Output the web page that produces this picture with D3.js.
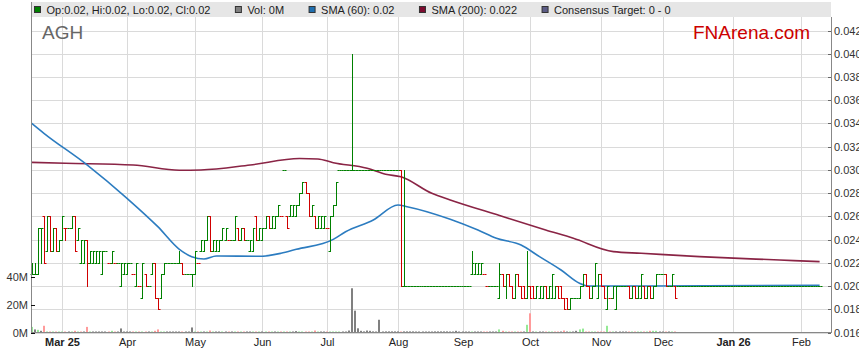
<!DOCTYPE html>
<html>
<head>
<meta charset="utf-8">
<script src="https://cdn.jsdelivr.net/npm/d3@7"></script>
<style>
  body { margin: 0; background: #fff; }
  svg { display: block; font-family: Arial, "Liberation Sans", sans-serif; }
</style>
</head>
<body>
<svg id="chart"></svg>
<script>
// first bar is Mon 17 Feb 2025, one bar per weekday
const startDate = new Date(2025, 1, 17);
const monthLabels = ["Mar 25", "Apr", "May", "Jun", "Jul", "Aug", "Sep", "Oct", "Nov", "Dec", "Jan 26", "Feb"];
const yearLabels = ["Mar 25", "Jan 26"];

// prices in thousandths of a dollar (21 = 0.021)
const opens = [
  21,21,21,25,26,23,26,23,25,23, 24,25,25,25,26,24,22,22,24,22,
  22,22,22,21,23,22,22,22,22,20, 21,21,22,21,20,20,19,21,20,21,
  22,19,19,21,22,22,22,22,22,22, 21,21,21,21,22,23,23,24,26,23,
  23,23,24,24,24,24,24,25,24,25, 24,23,23,26,24,24,25,26,25,25,
  26,26,30,26,26,26,26,27,28,29, 28,26,26,25,25,25,25,23,26,27,
  30,30,30,30,30,30,30,30,30,30, 30,30,30,30,30,30,30,30,30,30,
  30,20,20,20,20,20,20,20,20,20, 20,20,20,20,20,20,20,20,20,20,
  20,20,20,21,21,21,21,21,20,20, 20,20,19,21,20,21,20,19,21,20,
  20,19,20,20,19,19,19,20,19,19, 19,20,20,19,19,18,19,19,19,20,
  21,20,19,20,19,21,20,18,19,19, 18,20,20,20,20,19,20,19,19,20,
  19,20,19,20,21,21,21,20,20,20, 20,20,20,20,20,20,20,20,20,20,
  20,20,20,20,20,20,20,20,20,20, 20,20,20,20,20,20,20,20,20,20,
  20,20,20,20,20,20,20,20,20,20, 20,20,20,20,20,20,20
];
const highs = [
  22,22,25,25,26,26,26,25,25,24, 26,25,25,26,26,25,24,24,24,23,
  23,23,23,23,23,22,23,22,22,22, 22,22,22,21,22,20,22,21,20,22,
  22,19,21,22,22,22,22,22,23,22, 21,21,21,23,22,24,24,26,26,24,
  24,24,25,25,24,24,26,25,25,25, 24,24,25,26,25,25,26,26,26,26,
  27,26,30,26,27,27,27,28,29,29, 28,27,26,26,26,26,25,26,27,29,
  30,30,30,30,40,30,30,30,30,30, 30,30,30,30,30,30,30,30,30,30,
  30,30,20,20,20,20,20,20,20,20, 20,20,20,20,20,20,20,20,20,20,
  20,20,20,23,22,22,22,21,20,20, 20,20,22,21,21,21,20,21,21,20,
  20,23,20,20,20,20,20,20,20,21, 20,20,20,19,19,19,19,19,20,21,
  21,20,20,22,21,21,20,20,19,20, 20,20,20,20,20,20,20,20,21,20,
  20,20,20,21,21,21,21,20,21,20, 20,20,20,20,20,20,20,20,20,20,
  20,20,20,20,20,20,20,20,20,20, 20,20,20,20,20,20,20,20,20,20,
  20,20,20,20,20,20,20,20,20,20, 20,20,20,20,20,20,20
];
const lows = [
  21,21,21,22,22,23,23,23,23,23, 24,24,25,25,23,24,22,22,20,22,
  22,22,22,21,23,22,22,22,22,20, 21,21,22,21,20,20,19,20,20,21,
  19,18,19,21,22,22,22,22,22,21, 21,21,20,21,22,23,23,24,23,23,
  23,23,24,24,24,24,24,24,24,24, 24,23,23,24,24,24,25,25,25,25,
  26,26,30,25,26,26,26,27,28,28, 26,26,25,25,25,25,25,23,26,27,
  30,30,30,30,30,30,30,30,30,30, 30,30,30,30,30,30,30,30,30,30,
  20,20,20,20,20,20,20,20,20,20, 20,20,20,20,20,20,20,20,20,20,
  20,20,20,21,21,21,21,21,20,20, 20,20,19,20,19,20,19,19,20,19,
  19,19,19,19,19,19,19,19,19,19, 19,19,19,18,18,18,19,19,19,20,
  20,19,19,20,19,20,19,18,19,19, 18,20,20,20,19,19,19,19,19,19,
  19,19,19,20,21,21,20,20,20,19, 20,20,20,20,20,20,20,20,20,20,
  20,20,20,20,20,20,20,20,20,20, 20,20,20,20,20,20,20,20,20,20,
  20,20,20,20,20,20,20,20,20,20, 20,20,20,20,20,20,20
];
const closes = [
  21,21,25,25,22,26,23,25,23,24, 26,25,25,26,23,25,24,24,22,23,
  23,23,23,23,23,22,23,22,22,22, 22,22,22,21,22,20,22,20,20,22,
  19,18,21,22,22,22,22,22,22,21, 21,21,21,23,22,24,24,26,23,24,
  24,24,25,25,24,24,26,24,25,24, 24,24,25,24,25,25,26,25,26,26,
  27,26,30,25,27,27,27,28,29,28, 26,27,25,26,26,26,25,26,27,29,
  30,30,30,30,30,30,30,30,30,30, 30,30,30,30,30,30,30,30,30,30,
  20,20,20,20,20,20,20,20,20,20, 20,20,20,20,20,20,20,20,20,20,
  20,20,20,22,22,22,22,21,20,20, 20,20,21,20,21,20,19,21,20,19,
  19,20,19,19,20,20,20,19,20,21, 20,19,19,18,18,19,19,19,20,21,
  20,19,20,22,21,20,19,20,19,20, 20,20,20,20,19,20,19,20,21,19,
  20,19,20,21,21,21,20,20,21,19, 20,20,20,20,20,20,20,20,20,20,
  20,20,20,20,20,20,20,20,20,20, 20,20,20,20,20,20,20,20,20,20,
  20,20,20,20,20,20,20,20,20,20, 20,20,20,20,20,20,20
];
// volume in millions of shares
const volumes = [
  4.0,2.2,1.9,1.2,4.8,0.7,0.3,0.3,0.2,0.3, 0.3,0.7,0.3,0.2,1.2,0.3,0.7,0.2,4.0,0.2,
  0.3,0.2,0.2,0.3,0.2,0.2,1.2,0.2,0.3,2.9, 0.2,0.3,0.2,0.3,0.7,0.7,0.3,0.7,0.2,0.3,
  1.2,2.2,0.3,0.2,0.2,0.3,0.2,0.2,0.3,0.2, 0.7,0.2,3.6,0.3,0.7,0.3,0.7,0.7,1.4,0.3,
  0.2,0.5,0.5,0.2,0.3,0.2,0.5,0.2,0.5,0.5, 0.5,0.5,0.2,0.3,0.2,0.3,0.2,0.5,0.7,0.3,
  0.5,0.7,0.3,0.5,0.7,0.5,1.0,0.7,0.5,0.5, 0.5,0.3,1.4,0.5,0.5,0.7,0.5,0.3,0.5,0.3,
  0.7,0.3,0.2,1.4,31.6,15.6,3.0,1.2,0.8,1.4, 1.2,0.8,0.4,9.1,0.2,0.8,0.8,0.8,0.8,0.8,
  0.5,0.8,0.8,0.8,0.8,0.2,0.5,0.2,0.2,0.5, 0.2,0.8,0.8,0.8,0.8,0.8,0.2,0.2,1.2,0.7,
  0.7,0.5,0.2,0.5,0.2,0.5,0.5,0.5,0.5,0.5, 0.2,0.2,2.2,1.2,0.5,0.2,0.2,0.5,0.2,0.2,
  0.2,5.5,13.7,0.5,0.2,0.7,0.7,0.5,0.7,0.7, 0.2,0.2,0.2,1.4,0.5,0.5,0.5,1.2,2.2,2.8,
  0.5,0.5,0.5,0.7,0.5,0.5,0.2,4.8,0.7,0.7, 0.7,0.7,0.2,0.2,0.7,0.2,0.2,0.7,0.5,0.2,
  0.2,1.2,1.2,1.2,0.2,0.5,0.5,0.5,0.2,0.2, 0,0,0,0,0,0,0,0,0,0,
  0,0,0,0,0,0,0,0,0,0, 0,0,0,0,0,0,0,0,0,0,
  0,0,0,0,0,0,0,0,0,0, 0,0,0,0,0,0,0
];
// moving averages at these bar indices
const sma60Days = [0,4,18,31,41,48,52,56,60,74,81,86,98,102,111,119,122,136,145,151,159,165,172,178,181,200,256];
const sma60Vals = [0.03401,0.03315,0.03043,0.02755,0.02511,0.02316,0.02253,0.02233,0.02259,0.02256,0.02282,0.02316,
  0.02402,0.02468,0.02569,0.02698,0.02683,0.02575,0.02482,0.02411,0.02353,0.02253,0.02138,0.02024,0.02000,0.02000,0.02006];
const sma200Days = [0,11,33,48,55,71,87,93,98,109,115,120,130,136,152,167,176,189,198,217,243,256];
const sma200Vals = [0.03065,0.03057,0.03042,0.02997,0.02999,0.03042,0.03098,0.03094,0.03062,0.03014,0.02962,0.02941,
  0.02798,0.02741,0.02607,0.02483,0.02411,0.02296,0.02282,0.02253,0.02224,0.02210];
const priceTicks = d3.range(0.016, 0.0421, 0.002);
const volTicks = [0, 20, 40];

const W = 859, H = 363;
const pL = 31, pR = 831, pT = 2, pB = 332.5;

const svg = d3.select("#chart").attr("width", W).attr("height", H);

// weekday calendar for the x axis
const days = [];
for (let t = new Date(startDate); days.length < 262; t.setDate(t.getDate() + 1)) {
  if (t.getDay() !== 0 && t.getDay() !== 6) days.push(new Date(t));
}

const x = d3.scaleLinear().domain([-0.2, 259.7]).range([pL, pR]);
const y = d3.scaleLinear().domain([0.016, 0.042]).range([pB, 30.5]);
const yVol = d3.scaleLinear().domain([0, 20]).range([pB, 304.5]);
const px = i => Math.round(x(i)) + 0.5;
const py = v => Math.round(y(v / 1000)) + 0.5;

// --- grid ---
const monthStarts = [];
days.forEach((d, i) => {
  if (i > 0 && d.getMonth() !== days[i - 1].getMonth() && x(i) < pR) monthStarts.push(i);
});

const grid = svg.append("g").attr("stroke", "#dadada").attr("stroke-width", 1);
grid.selectAll(".hg").data(priceTicks).join("line")
  .attr("x1", pL).attr("x2", pR)
  .attr("y1", d => Math.round(y(d)) + 0.5).attr("y2", d => Math.round(y(d)) + 0.5);
grid.selectAll(".vg").data(monthStarts).join("line")
  .attr("x1", d => px(d)).attr("x2", d => px(d))
  .attr("y1", 17).attr("y2", pB);

// --- legend band ---
svg.append("rect").attr("x", pL).attr("y", pT).attr("width", pR - pL).attr("height", 15)
  .attr("fill", "#e6e6e6");

const legendItems = [
  { color: "#008000", text: "Op:0.02, Hi:0.02, Lo:0.02, Cl:0.02" },
  { color: "#808080", text: "Vol: 0M" },
  { color: "#1f6fb0", text: "SMA (60): 0.02" },
  { color: "#7d0c30", text: "SMA (200): 0.022" },
  { color: "#5c5c86", text: "Consensus Target: 0 - 0" }
];
let lx = 34.5;
legendItems.forEach(item => {
  svg.append("rect").attr("x", lx).attr("y", 6.5).attr("width", 6).attr("height", 6)
    .attr("fill", item.color).attr("stroke", "#333").attr("stroke-width", 1);
  const t = svg.append("text").attr("x", lx + 12).attr("y", 14)
    .attr("font-size", 11).attr("fill", "#222").text(item.text);
  lx += 12 + t.node().getComputedTextLength() + 25;
});

// --- titles ---
svg.append("text").attr("x", 42).attr("y", 39).attr("font-size", 19).attr("fill", "#666").text("AGH");
svg.append("text").attr("x", 693).attr("y", 39).attr("font-size", 19).attr("fill", "#cc0000").text("FNArena.com");

// --- volume bars ---
const volColor = i => {
  if (i === 0 || closes[i] > closes[i - 1]) return "#95ea95";
  if (closes[i] < closes[i - 1]) return "#ff9b9b";
  return "#808080";
};
svg.append("g").selectAll("rect")
  .data(volumes.map((v, i) => ({ v, i })).filter(d => d.v > 0))
  .join("rect")
  .attr("x", d => Math.round(x(d.i)) - 1)
  .attr("width", 2)
  .attr("y", d => Math.min(yVol(d.v), pB - 1))
  .attr("height", d => Math.max(pB - yVol(d.v), 1))
  .attr("fill", d => volColor(d.i));

// --- moving averages ---
const line = d3.line().x(d => x(d[0])).y(d => y(d[1])).curve(d3.curveMonotoneX);
svg.append("path").datum(sma200Days.map((d, i) => [d, sma200Vals[i]]))
  .attr("d", line).attr("fill", "none").attr("stroke", "#8a2445").attr("stroke-width", 1.6);
svg.append("path").datum(sma60Days.map((d, i) => [d, sma60Vals[i]]))
  .attr("d", line).attr("fill", "none").attr("stroke", "#2c7cc0").attr("stroke-width", 1.6);

// --- price bars ---
const barColor = i => {
  if (closes[i] > opens[i]) return "#008000";
  if (closes[i] < opens[i]) return "#d00000";
  return (i > 0 && closes[i] < closes[i - 1]) ? "#d00000" : "#008000";
};
svg.append("g").attr("fill", "none").attr("stroke-width", 1)
  .selectAll("path").data(d3.range(opens.length)).join("path")
  .attr("stroke", i => barColor(i))
  .attr("d", i => {
    const cx = px(i);
    return `M${cx - 2},${py(opens[i])}H${cx}` +
      (highs[i] !== lows[i] ? `M${cx},${py(highs[i]) - 0.5}V${py(lows[i]) + 0.5}` : "") +
      `M${cx},${py(closes[i])}H${cx + 2}`;
  });

// --- axes ---
svg.append("line").attr("x1", pL + 0.5).attr("x2", pL + 0.5).attr("y1", pT).attr("y2", pB)
  .attr("stroke", "#888");
svg.append("line").attr("x1", pR + 0.5).attr("x2", pR + 0.5).attr("y1", 17).attr("y2", pB)
  .attr("stroke", "#888");
svg.append("line").attr("x1", pL).attr("x2", pR + 1).attr("y1", pB).attr("y2", pB)
  .attr("stroke", "#888");

// right price axis
const ra = svg.append("g");
priceTicks.forEach(v => {
  const yy = Math.round(y(v)) + 0.5;
  ra.append("line").attr("x1", pR - 3).attr("x2", pR).attr("y1", yy).attr("y2", yy).attr("stroke", "#666");
  ra.append("text").attr("x", pR + 3).attr("y", yy).attr("dy", "0.35em")
    .attr("font-size", 11).attr("fill", "#333").text(v.toFixed(3));
});

// left volume axis
const la = svg.append("g");
volTicks.forEach(v => {
  const yy = Math.round(yVol(v)) + 0.5;
  la.append("line").attr("x1", pL).attr("x2", pL + 4).attr("y1", yy).attr("y2", yy).attr("stroke", "#111");
  la.append("text").attr("x", 28).attr("y", yy).attr("dy", "0.35em").attr("text-anchor", "end")
    .attr("font-size", 11).attr("fill", "#333").text(v + "M");
});

// month labels
svg.append("g").selectAll("text").data(monthStarts).join("text")
  .attr("x", d => px(d)).attr("y", 346).attr("text-anchor", "middle")
  .attr("font-size", 11).attr("fill", "#222")
  .attr("font-weight", (d, i) => yearLabels.includes(monthLabels[i]) ? "bold" : "normal")
  .text((d, i) => monthLabels[i]);
</script>
</body>
</html>
